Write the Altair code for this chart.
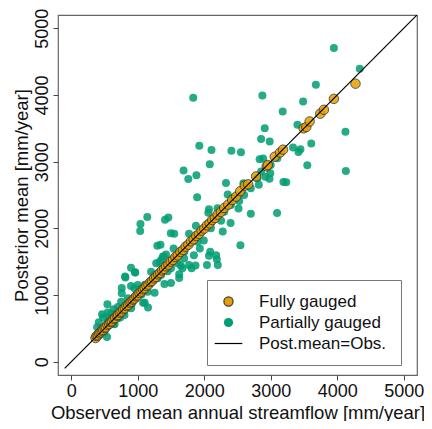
import altair as alt
import pandas as pd

# Fully gauged catchments (observed vs posterior mean, mm/year)
full_obs = [365, 380, 400, 420, 440, 460, 480, 500, 520, 545, 570, 590, 610, 635, 660, 685, 705, 730,
            755, 780, 805, 830, 855, 880, 905, 925, 950, 975, 1000, 1025, 1055, 1080, 1105, 1130, 1160,
            1190, 1215, 1245, 1275, 1305, 1335, 1365, 1395, 1425, 1460, 1495, 1530, 1565, 1600, 1640,
            1680, 1720, 1760, 1800, 1840, 1880, 1920, 1960, 2000, 2040, 2080, 2120, 2160, 2200, 2250,
            2300, 2360, 2420, 2480, 2540, 2610, 2660, 2780, 2940, 2955, 3060, 3140, 3185, 3495, 3535,
            3585, 3745, 3800, 3950, 4275]
full_post = [355, 385, 395, 425, 440, 465, 475, 505, 515, 550, 565, 595, 605, 640, 655, 690, 700, 735,
             750, 785, 800, 835, 850, 885, 900, 930, 945, 980, 995, 1030, 1050, 1085, 1100, 1135, 1155,
             1195, 1210, 1250, 1270, 1310, 1330, 1370, 1390, 1430, 1455, 1500, 1525, 1570, 1595, 1645,
             1675, 1725, 1755, 1805, 1835, 1885, 1915, 1965, 1995, 2045, 2075, 2125, 2155, 2205, 2245,
             2305, 2355, 2425, 2475, 2556, 2640, 2660, 2778, 2930, 2950, 3075, 3137, 3180, 3500, 3520,
             3603, 3720, 3778, 3942, 4170]

# Partially gauged catchments
part_obs = [3950, 4339, 3679, 2874, 3487, 3180, 3402, 2910, 4124, 2855, 2984, 3609, 3336, 3447, 3417,
            2833, 2885, 3550, 4130, 2993, 2821, 2981, 3191, 3233, 2700, 3095, 2919, 2855,
            1834, 1926, 2109, 2083, 1689, 1760, 1882, 1893, 2071, 2408, 2552, 2327, 2589, 2352, 2426,
            2525, 2515, 2061, 1460, 1410, 1143, 1040, 1036, 2396, 2278, 1497, 1549, 1874, 1771, 1993,
            2544, 1538, 1342, 1294, 1933, 2090, 2071, 2179, 2189, 1391, 1351, 1771, 2041, 1646, 2253,
            2204, 1809, 1868, 814, 898, 962, 898, 759, 1154, 1105, 543, 463, 1623, 562, 513, 414, 537,
            1376, 1425, 1327, 957, 809, 1277, 1623, 1672, 1499, 1401, 759, 1080, 1253, 636, 547, 478,
            414, 389, 784, 735, 463, 1105, 1253, 1450, 1598, 1697, 1055, 907, 661, 636, 1844,
            600, 700, 850, 950, 1000, 1200, 1300, 650, 800, 900, 1150, 1350, 1500, 1700, 1900, 2100,
            2200, 2300, 2400, 2600, 2700, 2800, 3000, 3100, 500, 450, 550, 700, 750, 1050]
part_post = [4705, 4395, 4155, 3993, 3901, 3751, 3555, 3500, 3447, 3341, 3301, 3274, 3211, 3186, 3146,
             3038, 3048, 2947, 2861, 2827, 2655, 2743, 2695, 2690, 2220, 2230, 2773, 2851,
             3957, 3240, 3174, 2960, 2869, 2739, 2795, 2468, 2286, 3164, 3142, 2680, 2677, 2507, 2459,
             2409, 2297, 2232, 2164, 2128, 2171, 2065, 1961, 2080, 1954, 1925, 1917, 2040, 1917, 1819,
             1745, 1696, 1755, 1740, 1696, 1647, 1588, 1597, 1538, 1583, 1524, 1450, 1450, 1441, 2114,
             1450, 1401, 1441, 1264, 1410, 1336, 1136, 1028, 811, 885, 860, 712, 1254, 664, 516, 394, 369,
             1574, 1608, 1490, 1342, 1279, 1475, 1313, 1401, 1180, 1165, 1106, 885, 1032, 786, 737, 664,
             590, 516, 811, 664, 442, 1155, 1302, 1357, 1475, 1549, 1007, 860, 712, 565, 1597,
             720, 820, 950, 1100, 1150, 1350, 1250, 560, 700, 800, 1050, 1300, 1400, 1650, 1800, 2000,
             2300, 2250, 2350, 2500, 2600, 2750, 2950, 3050, 450, 500, 600, 650, 900, 1100]

line_vals = [-100, 5200]
tick_vals = [0, 1000, 2000, 3000, 4000, 5000]
groups = ["Fully gauged", "Partially gauged", "Post.mean=Obs."]

pts = pd.DataFrame({
    "obs": part_obs + full_obs,
    "post": part_post + full_post,
    "group": [groups[1]] * len(part_obs) + [groups[0]] * len(full_obs),
    "order": [0] * len(part_obs) + [1] * len(full_obs),
})
line_df = pd.DataFrame({"obs": line_vals, "post": line_vals})

dom = [-200, 5200]
font = "Liberation Sans"

xax = alt.Axis(values=tick_vals, format="d", domain=False, grid=False, tickSize=5, tickColor="#444444",
               labelFontSize=18, labelFont=font, labelColor="#111111", labelPadding=2,
               titleFontSize=18.5, titleFont=font, titleFontWeight="normal", titleColor="#111111",
               titlePadding=3, labelFlush=False)
yax = alt.Axis(values=tick_vals, format="d", domain=False, grid=False, tickSize=5, tickColor="#444444",
               labelFontSize=18, labelFont=font, labelColor="#111111", labelPadding=2,
               labelAngle=270, labelAlign="center", labelBaseline="bottom",
               titleFontSize=18.5, titleFont=font, titleFontWeight="normal", titleColor="#111111",
               titlePadding=2, labelFlush=False)

xs = alt.Scale(domain=dom, nice=False, zero=False)
ys = alt.Scale(domain=dom, nice=False, zero=False)

legend = alt.Legend(orient="none", legendX=149, legendY=265, padding=13, strokeColor="#777777",
                    fillColor="white", labelFontSize=17, labelFont=font, labelColor="#111111",
                    symbolSize=85, symbolStrokeWidth=1.2, rowPadding=3, labelOffset=22,
                    symbolOpacity=1, title="   ", titleOrient="right", titleFontSize=17,
                    titlePadding=2)

points = alt.Chart(pts).mark_point(filled=True, opacity=0.85, strokeWidth=1).encode(
    x=alt.X("obs:Q", scale=xs, axis=xax, title="Observed mean annual streamflow [mm/year]"),
    y=alt.Y("post:Q", scale=ys, axis=yax, title="Posterior mean [mm/year]"),
    fill=alt.Fill("group:N", scale=alt.Scale(domain=groups, range=["#E69F00", "#009E73", "#000000"]),
                  legend=legend),
    stroke=alt.Stroke("group:N", scale=alt.Scale(domain=groups, range=["#3a3a3a", "transparent", "#000000"]),
                      legend=legend),
    shape=alt.Shape("group:N", scale=alt.Scale(domain=groups, range=["circle", "circle", "M-3,0H3"]),
                    legend=legend),
    size=alt.Size("group:N", scale=alt.Scale(domain=groups[:2], range=[90, 64]), legend=None),
    order=alt.Order("order:Q"),
)

diag = alt.Chart(line_df).mark_line(color="black", strokeWidth=1.2, clip=True).encode(
    x=alt.X("obs:Q", scale=xs),
    y=alt.Y("post:Q", scale=ys),
)

chart = alt.layer(points, diag).properties(
    width=359, height=360,
    autosize=alt.AutoSizeParams(type="none"),
    padding={"left": 50, "top": 7, "right": 7, "bottom": 46},
).configure_view(stroke="#666666", strokeWidth=1.2)

chart.save("out.html", embed_options={"renderer": "svg", "actions": False})
